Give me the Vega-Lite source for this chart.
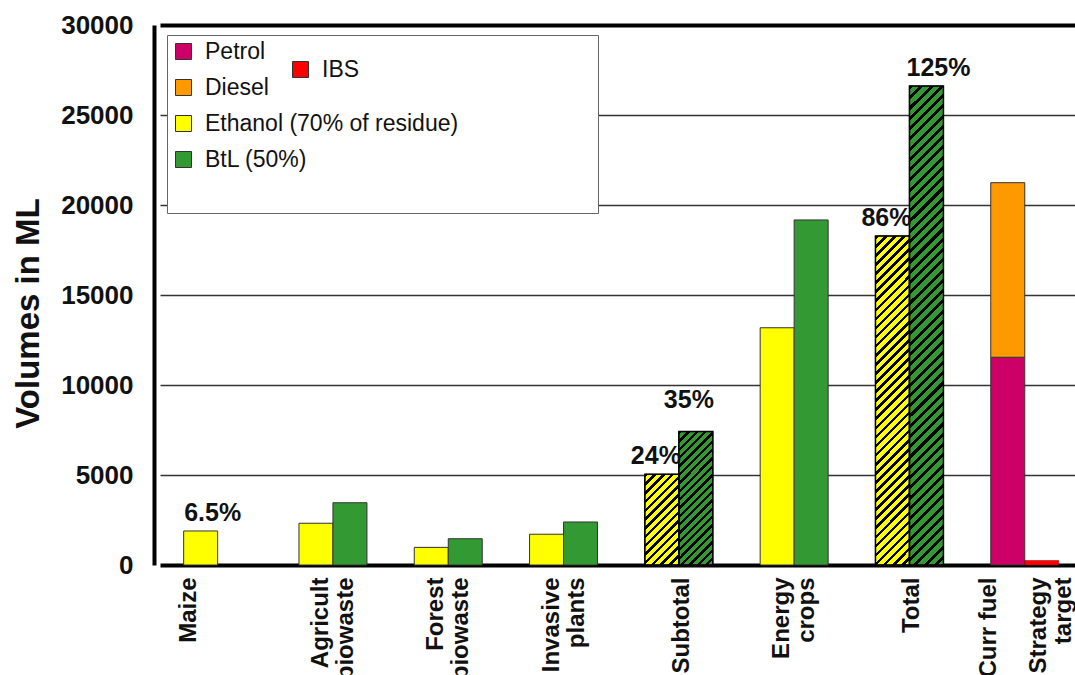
{
"$schema": "https://vega.github.io/schema/vega-lite/v6.json",
"width": 921,
"height": 540,
"autosize": "none",
"padding": {"left": 154, "top": 25, "right": 0, "bottom": 110},
"background": "white",
"config": {"font": "Liberation Sans", "view": {"stroke": null}},
"data": {"values": [
 {"cat": "Maize", "fuel": "Ethanol (70% of residue)", "value": 1890, "label": "6.5%"},
 {"cat": "Agricult biowaste", "fuel": "Ethanol (70% of residue)", "value": 2320},
 {"cat": "Agricult biowaste", "fuel": "BtL (50%)", "value": 3460},
 {"cat": "Forest biowaste", "fuel": "Ethanol (70% of residue)", "value": 980},
 {"cat": "Forest biowaste", "fuel": "BtL (50%)", "value": 1460},
 {"cat": "Invasive plants", "fuel": "Ethanol (70% of residue)", "value": 1710},
 {"cat": "Invasive plants", "fuel": "BtL (50%)", "value": 2390},
 {"cat": "Subtotal", "fuel": "Ethanol (70% of residue)", "value": 5040, "label": "24%"},
 {"cat": "Subtotal", "fuel": "BtL (50%)", "value": 7410, "label": "35%"},
 {"cat": "Energy crops", "fuel": "Ethanol (70% of residue)", "value": 13180},
 {"cat": "Energy crops", "fuel": "BtL (50%)", "value": 19170},
 {"cat": "Total", "fuel": "Ethanol (70% of residue)", "value": 18280, "label": "86%"},
 {"cat": "Total", "fuel": "BtL (50%)", "value": 26610, "label": "125%"},
 {"cat": "Curr fuel / Strategy target", "fuel": "Petrol", "value": 11540},
 {"cat": "Curr fuel / Strategy target", "fuel": "Diesel", "value": 9700},
 {"cat": "Curr fuel / Strategy target", "fuel": "IBS", "value": 250}
]},
"transform": [{"calculate": "datum.fuel === 'BtL (50%)' || datum.fuel === 'IBS' ? 'b' : 'a'", "as": "slot"}],
"encoding": {
 "x": {"field": "cat", "type": "nominal", "sort": null,
  "scale": {"domain": ["Maize", "Agricult biowaste", "Forest biowaste", "Invasive plants", "Subtotal", "Energy crops", "Total", "Curr fuel / Strategy target"], "range": [6, 928.4], "paddingInner": 0, "paddingOuter": 0},
  "axis": {"title": null, "domain": false, "ticks": false, "grid": false, "labelAngle": 270, "labelAlign": "right", "labelBaseline": "middle", "labelFontSize": 24, "labelFontWeight": "bold", "labelColor": "#111", "labelPadding": 12, "labelLineHeight": 25, "labelLimit": 0, "labelOverlap": false, "labelFlush": false,
   "labelOffset": {"condition": [{"test": "datum.value === 'Maize'", "value": -29}, {"test": "datum.value === 'Curr fuel / Strategy target'", "value": -36}, {"test": "indexof(datum.value, ' ') >= 0", "value": -12}], "value": 3},
   "labelExpr": "datum.value === 'Curr fuel / Strategy target' ? ['Curr fuel', '\u200b', 'Strategy', 'target'] : split(datum.value, ' ')"}},
 "xOffset": {"field": "slot", "type": "nominal", "scale": {"domain": ["a", "b"], "paddingInner": 0, "paddingOuter": 0.696}},
 "y": {"field": "value", "type": "quantitative", "scale": {"domain": [0, 30000]},
  "axis": {"title": "Volumes in ML", "titleFontSize": 33, "titleFontWeight": "bold", "titleColor": "#111", "titleAngle": 270, "titleAlign": "center", "titleBaseline": "middle", "titleX": -126, "titleY": 288,
   "values": [0, 5000, 10000, 15000, 20000, 25000, 30000], "format": "d", "labelFontSize": 26, "labelFontWeight": "bold", "labelColor": "#111", "labelPadding": 21, "ticks": false,
   "domainColor": "#000", "domainWidth": 4, "grid": true, "gridColor": {"condition": {"test": "datum.value === 0 || datum.value === 30000", "value": "#000"}, "value": "#333"}, "gridWidth": {"condition": {"test": "datum.value === 0 || datum.value === 30000", "value": 4}, "value": 1.5}}}
},
"layer": [
 {"transform": [{"filter": "datum.fuel !== 'IBS'"}],
  "mark": {"type": "bar", "stroke": "#333", "strokeWidth": 1},
  "encoding": {
   "color": {"field": "fuel", "type": "nominal",
    "scale": {"domain": ["Petrol", "Diesel", "Ethanol (70% of residue)", "BtL (50%)"], "range": ["#CC0066", "#FF9900", "#FFFF00", "#339933"]},
    "legend": {"title": "\u00a0", "titleOrient": "bottom", "titleFontSize": 26, "titlePadding": 10, "orient": "none", "legendX": 13, "legendY": 10, "direction": "vertical",
     "symbolType": "square", "symbolSize": 256, "symbolStrokeColor": "#333", "symbolStrokeWidth": 1, "symbolOpacity": 1,
     "labelFontSize": 23, "labelColor": "#111", "labelOffset": 10, "labelLimit": 0, "rowPadding": 12, "padding": 5, "fillColor": "white", "strokeColor": "#666",
     "labelExpr": "datum.label === 'Ethanol (70% of residue)' ? datum.label + '\u00a0\u00a0\u00a0\u00a0\u00a0\u00a0\u00a0\u00a0\u00a0\u00a0\u00a0\u00a0\u00a0\u00a0\u00a0\u00a0\u00a0\u00a0\u00a0\u00a0\u00a0\u200b' : datum.label"}},
   "order": {"field": "value", "sort": "descending"}
  }},
 {"transform": [{"filter": "datum.fuel === 'IBS'"}],
  "mark": {"type": "bar", "stroke": "#990000", "strokeWidth": 0.5},
  "encoding": {
   "fill": {"field": "fuel", "type": "nominal", "scale": {"domain": ["IBS"], "range": ["#FF0000"]},
    "legend": {"title": null, "orient": "none", "legendX": 135, "legendY": 33, "symbolType": "square", "symbolSize": 256, "symbolStrokeColor": "#333", "symbolStrokeWidth": 1, "symbolOpacity": 1, "labelFontSize": 23, "labelColor": "#111", "labelOffset": 10, "padding": 0}}
  }},
 {"transform": [{"filter": "datum.cat === 'Subtotal' || datum.cat === 'Total'"}],
  "mark": {"type": "bar", "stroke": "#000", "strokeWidth": 1.5},
  "encoding": {
   "fill": {"condition": [
    {"test": "datum.cat === 'Subtotal' && datum.slot === 'a'", "value": {"gradient": "linear", "x1": 0, "y1": 0, "x2": 0.452, "y2": 1.206, "stops": [
     {"offset": 0, "color": "#000"}, {"offset": 0.028, "color": "#000"}, {"offset": 0.028, "color": "#0000"},
     {"offset": 0.07, "color": "#0000"}, {"offset": 0.07, "color": "#000"}, {"offset": 0.098, "color": "#000"}, {"offset": 0.098, "color": "#0000"},
     {"offset": 0.14, "color": "#0000"}, {"offset": 0.14, "color": "#000"}, {"offset": 0.168, "color": "#000"}, {"offset": 0.168, "color": "#0000"},
     {"offset": 0.21, "color": "#0000"}, {"offset": 0.21, "color": "#000"}, {"offset": 0.238, "color": "#000"}, {"offset": 0.238, "color": "#0000"},
     {"offset": 0.28, "color": "#0000"}, {"offset": 0.28, "color": "#000"}, {"offset": 0.308, "color": "#000"}, {"offset": 0.308, "color": "#0000"},
     {"offset": 0.35, "color": "#0000"}, {"offset": 0.35, "color": "#000"}, {"offset": 0.378, "color": "#000"}, {"offset": 0.378, "color": "#0000"},
     {"offset": 0.42, "color": "#0000"}, {"offset": 0.42, "color": "#000"}, {"offset": 0.448, "color": "#000"}, {"offset": 0.448, "color": "#0000"},
     {"offset": 0.49, "color": "#0000"}, {"offset": 0.49, "color": "#000"}, {"offset": 0.518, "color": "#000"}, {"offset": 0.518, "color": "#0000"},
     {"offset": 0.56, "color": "#0000"}, {"offset": 0.56, "color": "#000"}, {"offset": 0.588, "color": "#000"}, {"offset": 0.588, "color": "#0000"},
     {"offset": 0.63, "color": "#0000"}, {"offset": 0.63, "color": "#000"}, {"offset": 0.658, "color": "#000"}, {"offset": 0.658, "color": "#0000"},
     {"offset": 0.7, "color": "#0000"}, {"offset": 0.7, "color": "#000"}, {"offset": 0.728, "color": "#000"}, {"offset": 0.728, "color": "#0000"},
     {"offset": 0.77, "color": "#0000"}, {"offset": 0.77, "color": "#000"}, {"offset": 0.798, "color": "#000"}, {"offset": 0.798, "color": "#0000"},
     {"offset": 0.84, "color": "#0000"}, {"offset": 0.84, "color": "#000"}, {"offset": 0.868, "color": "#000"}, {"offset": 0.868, "color": "#0000"},
     {"offset": 0.91, "color": "#0000"}, {"offset": 0.91, "color": "#000"}, {"offset": 0.938, "color": "#000"}, {"offset": 0.938, "color": "#0000"},
     {"offset": 0.98, "color": "#0000"}, {"offset": 0.98, "color": "#000"}, {"offset": 1, "color": "#000"}]}},
    {"test": "datum.cat === 'Subtotal' && datum.slot === 'b'", "value": {"gradient": "linear", "x1": 0, "y1": 0, "x2": 0.301, "y2": 1.178, "stops": [
     {"offset": 0, "color": "#000"}, {"offset": 0.02, "color": "#000"}, {"offset": 0.02, "color": "#0000"},
     {"offset": 0.05, "color": "#0000"}, {"offset": 0.05, "color": "#000"}, {"offset": 0.07, "color": "#000"}, {"offset": 0.07, "color": "#0000"},
     {"offset": 0.1, "color": "#0000"}, {"offset": 0.1, "color": "#000"}, {"offset": 0.12, "color": "#000"}, {"offset": 0.12, "color": "#0000"},
     {"offset": 0.15, "color": "#0000"}, {"offset": 0.15, "color": "#000"}, {"offset": 0.17, "color": "#000"}, {"offset": 0.17, "color": "#0000"},
     {"offset": 0.2, "color": "#0000"}, {"offset": 0.2, "color": "#000"}, {"offset": 0.22, "color": "#000"}, {"offset": 0.22, "color": "#0000"},
     {"offset": 0.25, "color": "#0000"}, {"offset": 0.25, "color": "#000"}, {"offset": 0.27, "color": "#000"}, {"offset": 0.27, "color": "#0000"},
     {"offset": 0.3, "color": "#0000"}, {"offset": 0.3, "color": "#000"}, {"offset": 0.32, "color": "#000"}, {"offset": 0.32, "color": "#0000"},
     {"offset": 0.35, "color": "#0000"}, {"offset": 0.35, "color": "#000"}, {"offset": 0.37, "color": "#000"}, {"offset": 0.37, "color": "#0000"},
     {"offset": 0.4, "color": "#0000"}, {"offset": 0.4, "color": "#000"}, {"offset": 0.42, "color": "#000"}, {"offset": 0.42, "color": "#0000"},
     {"offset": 0.45, "color": "#0000"}, {"offset": 0.45, "color": "#000"}, {"offset": 0.47, "color": "#000"}, {"offset": 0.47, "color": "#0000"},
     {"offset": 0.5, "color": "#0000"}, {"offset": 0.5, "color": "#000"}, {"offset": 0.52, "color": "#000"}, {"offset": 0.52, "color": "#0000"},
     {"offset": 0.55, "color": "#0000"}, {"offset": 0.55, "color": "#000"}, {"offset": 0.57, "color": "#000"}, {"offset": 0.57, "color": "#0000"},
     {"offset": 0.6, "color": "#0000"}, {"offset": 0.6, "color": "#000"}, {"offset": 0.62, "color": "#000"}, {"offset": 0.62, "color": "#0000"},
     {"offset": 0.65, "color": "#0000"}, {"offset": 0.65, "color": "#000"}, {"offset": 0.67, "color": "#000"}, {"offset": 0.67, "color": "#0000"},
     {"offset": 0.7, "color": "#0000"}, {"offset": 0.7, "color": "#000"}, {"offset": 0.72, "color": "#000"}, {"offset": 0.72, "color": "#0000"},
     {"offset": 0.75, "color": "#0000"}, {"offset": 0.75, "color": "#000"}, {"offset": 0.77, "color": "#000"}, {"offset": 0.77, "color": "#0000"},
     {"offset": 0.8, "color": "#0000"}, {"offset": 0.8, "color": "#000"}, {"offset": 0.82, "color": "#000"}, {"offset": 0.82, "color": "#0000"},
     {"offset": 0.85, "color": "#0000"}, {"offset": 0.85, "color": "#000"}, {"offset": 0.87, "color": "#000"}, {"offset": 0.87, "color": "#0000"},
     {"offset": 0.9, "color": "#0000"}, {"offset": 0.9, "color": "#000"}, {"offset": 0.92, "color": "#000"}, {"offset": 0.92, "color": "#0000"},
     {"offset": 0.95, "color": "#0000"}, {"offset": 0.95, "color": "#000"}, {"offset": 0.97, "color": "#000"}, {"offset": 0.97, "color": "#0000"}]}},
    {"test": "datum.cat === 'Total' && datum.slot === 'a'", "value": {"gradient": "linear", "x1": 0, "y1": 0, "x2": 0.113, "y2": 1.092, "stops": [
     {"offset": 0, "color": "#000"}, {"offset": 0.01, "color": "#000"}, {"offset": 0.01, "color": "#0000"},
     {"offset": 0.025, "color": "#0000"}, {"offset": 0.025, "color": "#000"}, {"offset": 0.035, "color": "#000"}, {"offset": 0.035, "color": "#0000"},
     {"offset": 0.05, "color": "#0000"}, {"offset": 0.05, "color": "#000"}, {"offset": 0.06, "color": "#000"}, {"offset": 0.06, "color": "#0000"},
     {"offset": 0.075, "color": "#0000"}, {"offset": 0.075, "color": "#000"}, {"offset": 0.085, "color": "#000"}, {"offset": 0.085, "color": "#0000"},
     {"offset": 0.1, "color": "#0000"}, {"offset": 0.1, "color": "#000"}, {"offset": 0.11, "color": "#000"}, {"offset": 0.11, "color": "#0000"},
     {"offset": 0.125, "color": "#0000"}, {"offset": 0.125, "color": "#000"}, {"offset": 0.135, "color": "#000"}, {"offset": 0.135, "color": "#0000"},
     {"offset": 0.15, "color": "#0000"}, {"offset": 0.15, "color": "#000"}, {"offset": 0.16, "color": "#000"}, {"offset": 0.16, "color": "#0000"},
     {"offset": 0.175, "color": "#0000"}, {"offset": 0.175, "color": "#000"}, {"offset": 0.185, "color": "#000"}, {"offset": 0.185, "color": "#0000"},
     {"offset": 0.2, "color": "#0000"}, {"offset": 0.2, "color": "#000"}, {"offset": 0.21, "color": "#000"}, {"offset": 0.21, "color": "#0000"},
     {"offset": 0.225, "color": "#0000"}, {"offset": 0.225, "color": "#000"}, {"offset": 0.235, "color": "#000"}, {"offset": 0.235, "color": "#0000"},
     {"offset": 0.25, "color": "#0000"}, {"offset": 0.25, "color": "#000"}, {"offset": 0.26, "color": "#000"}, {"offset": 0.26, "color": "#0000"},
     {"offset": 0.275, "color": "#0000"}, {"offset": 0.275, "color": "#000"}, {"offset": 0.285, "color": "#000"}, {"offset": 0.285, "color": "#0000"},
     {"offset": 0.3, "color": "#0000"}, {"offset": 0.3, "color": "#000"}, {"offset": 0.31, "color": "#000"}, {"offset": 0.31, "color": "#0000"},
     {"offset": 0.325, "color": "#0000"}, {"offset": 0.325, "color": "#000"}, {"offset": 0.335, "color": "#000"}, {"offset": 0.335, "color": "#0000"},
     {"offset": 0.35, "color": "#0000"}, {"offset": 0.35, "color": "#000"}, {"offset": 0.36, "color": "#000"}, {"offset": 0.36, "color": "#0000"},
     {"offset": 0.375, "color": "#0000"}, {"offset": 0.375, "color": "#000"}, {"offset": 0.385, "color": "#000"}, {"offset": 0.385, "color": "#0000"},
     {"offset": 0.4, "color": "#0000"}, {"offset": 0.4, "color": "#000"}, {"offset": 0.41, "color": "#000"}, {"offset": 0.41, "color": "#0000"},
     {"offset": 0.425, "color": "#0000"}, {"offset": 0.425, "color": "#000"}, {"offset": 0.435, "color": "#000"}, {"offset": 0.435, "color": "#0000"},
     {"offset": 0.45, "color": "#0000"}, {"offset": 0.45, "color": "#000"}, {"offset": 0.46, "color": "#000"}, {"offset": 0.46, "color": "#0000"},
     {"offset": 0.475, "color": "#0000"}, {"offset": 0.475, "color": "#000"}, {"offset": 0.485, "color": "#000"}, {"offset": 0.485, "color": "#0000"},
     {"offset": 0.5, "color": "#0000"}, {"offset": 0.5, "color": "#000"}, {"offset": 0.51, "color": "#000"}, {"offset": 0.51, "color": "#0000"},
     {"offset": 0.525, "color": "#0000"}, {"offset": 0.525, "color": "#000"}, {"offset": 0.535, "color": "#000"}, {"offset": 0.535, "color": "#0000"},
     {"offset": 0.55, "color": "#0000"}, {"offset": 0.55, "color": "#000"}, {"offset": 0.56, "color": "#000"}, {"offset": 0.56, "color": "#0000"},
     {"offset": 0.575, "color": "#0000"}, {"offset": 0.575, "color": "#000"}, {"offset": 0.585, "color": "#000"}, {"offset": 0.585, "color": "#0000"},
     {"offset": 0.6, "color": "#0000"}, {"offset": 0.6, "color": "#000"}, {"offset": 0.61, "color": "#000"}, {"offset": 0.61, "color": "#0000"},
     {"offset": 0.625, "color": "#0000"}, {"offset": 0.625, "color": "#000"}, {"offset": 0.635, "color": "#000"}, {"offset": 0.635, "color": "#0000"},
     {"offset": 0.65, "color": "#0000"}, {"offset": 0.65, "color": "#000"}, {"offset": 0.66, "color": "#000"}, {"offset": 0.66, "color": "#0000"},
     {"offset": 0.675, "color": "#0000"}, {"offset": 0.675, "color": "#000"}, {"offset": 0.685, "color": "#000"}, {"offset": 0.685, "color": "#0000"},
     {"offset": 0.7, "color": "#0000"}, {"offset": 0.7, "color": "#000"}, {"offset": 0.71, "color": "#000"}, {"offset": 0.71, "color": "#0000"},
     {"offset": 0.725, "color": "#0000"}, {"offset": 0.725, "color": "#000"}, {"offset": 0.735, "color": "#000"}, {"offset": 0.735, "color": "#0000"},
     {"offset": 0.75, "color": "#0000"}, {"offset": 0.75, "color": "#000"}, {"offset": 0.76, "color": "#000"}, {"offset": 0.76, "color": "#0000"},
     {"offset": 0.775, "color": "#0000"}, {"offset": 0.775, "color": "#000"}, {"offset": 0.785, "color": "#000"}, {"offset": 0.785, "color": "#0000"},
     {"offset": 0.8, "color": "#0000"}, {"offset": 0.8, "color": "#000"}, {"offset": 0.81, "color": "#000"}, {"offset": 0.81, "color": "#0000"},
     {"offset": 0.825, "color": "#0000"}, {"offset": 0.825, "color": "#000"}, {"offset": 0.835, "color": "#000"}, {"offset": 0.835, "color": "#0000"},
     {"offset": 0.85, "color": "#0000"}, {"offset": 0.85, "color": "#000"}, {"offset": 0.86, "color": "#000"}, {"offset": 0.86, "color": "#0000"},
     {"offset": 0.875, "color": "#0000"}, {"offset": 0.875, "color": "#000"}, {"offset": 0.885, "color": "#000"}, {"offset": 0.885, "color": "#0000"},
     {"offset": 0.9, "color": "#0000"}, {"offset": 0.9, "color": "#000"}, {"offset": 0.91, "color": "#000"}, {"offset": 0.91, "color": "#0000"},
     {"offset": 0.925, "color": "#0000"}, {"offset": 0.925, "color": "#000"}, {"offset": 0.935, "color": "#000"}, {"offset": 0.935, "color": "#0000"},
     {"offset": 0.95, "color": "#0000"}, {"offset": 0.95, "color": "#000"}, {"offset": 0.96, "color": "#000"}, {"offset": 0.96, "color": "#0000"},
     {"offset": 0.975, "color": "#0000"}, {"offset": 0.975, "color": "#000"}, {"offset": 0.985, "color": "#000"}, {"offset": 0.985, "color": "#0000"}]}},
    {"test": "datum.cat === 'Total' && datum.slot === 'b'", "value": {"gradient": "linear", "x1": 0, "y1": 0, "x2": 0.0756, "y2": 1.066, "stops": [
     {"offset": 0, "color": "#000"}, {"offset": 0.008, "color": "#000"}, {"offset": 0.008, "color": "#0000"},
     {"offset": 0.02, "color": "#0000"}, {"offset": 0.02, "color": "#000"}, {"offset": 0.028, "color": "#000"}, {"offset": 0.028, "color": "#0000"},
     {"offset": 0.04, "color": "#0000"}, {"offset": 0.04, "color": "#000"}, {"offset": 0.048, "color": "#000"}, {"offset": 0.048, "color": "#0000"},
     {"offset": 0.06, "color": "#0000"}, {"offset": 0.06, "color": "#000"}, {"offset": 0.068, "color": "#000"}, {"offset": 0.068, "color": "#0000"},
     {"offset": 0.08, "color": "#0000"}, {"offset": 0.08, "color": "#000"}, {"offset": 0.088, "color": "#000"}, {"offset": 0.088, "color": "#0000"},
     {"offset": 0.1, "color": "#0000"}, {"offset": 0.1, "color": "#000"}, {"offset": 0.108, "color": "#000"}, {"offset": 0.108, "color": "#0000"},
     {"offset": 0.12, "color": "#0000"}, {"offset": 0.12, "color": "#000"}, {"offset": 0.128, "color": "#000"}, {"offset": 0.128, "color": "#0000"},
     {"offset": 0.14, "color": "#0000"}, {"offset": 0.14, "color": "#000"}, {"offset": 0.148, "color": "#000"}, {"offset": 0.148, "color": "#0000"},
     {"offset": 0.16, "color": "#0000"}, {"offset": 0.16, "color": "#000"}, {"offset": 0.168, "color": "#000"}, {"offset": 0.168, "color": "#0000"},
     {"offset": 0.18, "color": "#0000"}, {"offset": 0.18, "color": "#000"}, {"offset": 0.188, "color": "#000"}, {"offset": 0.188, "color": "#0000"},
     {"offset": 0.2, "color": "#0000"}, {"offset": 0.2, "color": "#000"}, {"offset": 0.208, "color": "#000"}, {"offset": 0.208, "color": "#0000"},
     {"offset": 0.22, "color": "#0000"}, {"offset": 0.22, "color": "#000"}, {"offset": 0.228, "color": "#000"}, {"offset": 0.228, "color": "#0000"},
     {"offset": 0.24, "color": "#0000"}, {"offset": 0.24, "color": "#000"}, {"offset": 0.248, "color": "#000"}, {"offset": 0.248, "color": "#0000"},
     {"offset": 0.26, "color": "#0000"}, {"offset": 0.26, "color": "#000"}, {"offset": 0.268, "color": "#000"}, {"offset": 0.268, "color": "#0000"},
     {"offset": 0.28, "color": "#0000"}, {"offset": 0.28, "color": "#000"}, {"offset": 0.288, "color": "#000"}, {"offset": 0.288, "color": "#0000"},
     {"offset": 0.3, "color": "#0000"}, {"offset": 0.3, "color": "#000"}, {"offset": 0.308, "color": "#000"}, {"offset": 0.308, "color": "#0000"},
     {"offset": 0.32, "color": "#0000"}, {"offset": 0.32, "color": "#000"}, {"offset": 0.328, "color": "#000"}, {"offset": 0.328, "color": "#0000"},
     {"offset": 0.34, "color": "#0000"}, {"offset": 0.34, "color": "#000"}, {"offset": 0.348, "color": "#000"}, {"offset": 0.348, "color": "#0000"},
     {"offset": 0.36, "color": "#0000"}, {"offset": 0.36, "color": "#000"}, {"offset": 0.368, "color": "#000"}, {"offset": 0.368, "color": "#0000"},
     {"offset": 0.38, "color": "#0000"}, {"offset": 0.38, "color": "#000"}, {"offset": 0.388, "color": "#000"}, {"offset": 0.388, "color": "#0000"},
     {"offset": 0.4, "color": "#0000"}, {"offset": 0.4, "color": "#000"}, {"offset": 0.408, "color": "#000"}, {"offset": 0.408, "color": "#0000"},
     {"offset": 0.42, "color": "#0000"}, {"offset": 0.42, "color": "#000"}, {"offset": 0.428, "color": "#000"}, {"offset": 0.428, "color": "#0000"},
     {"offset": 0.44, "color": "#0000"}, {"offset": 0.44, "color": "#000"}, {"offset": 0.448, "color": "#000"}, {"offset": 0.448, "color": "#0000"},
     {"offset": 0.46, "color": "#0000"}, {"offset": 0.46, "color": "#000"}, {"offset": 0.468, "color": "#000"}, {"offset": 0.468, "color": "#0000"},
     {"offset": 0.48, "color": "#0000"}, {"offset": 0.48, "color": "#000"}, {"offset": 0.488, "color": "#000"}, {"offset": 0.488, "color": "#0000"},
     {"offset": 0.5, "color": "#0000"}, {"offset": 0.5, "color": "#000"}, {"offset": 0.508, "color": "#000"}, {"offset": 0.508, "color": "#0000"},
     {"offset": 0.52, "color": "#0000"}, {"offset": 0.52, "color": "#000"}, {"offset": 0.528, "color": "#000"}, {"offset": 0.528, "color": "#0000"},
     {"offset": 0.54, "color": "#0000"}, {"offset": 0.54, "color": "#000"}, {"offset": 0.548, "color": "#000"}, {"offset": 0.548, "color": "#0000"},
     {"offset": 0.56, "color": "#0000"}, {"offset": 0.56, "color": "#000"}, {"offset": 0.568, "color": "#000"}, {"offset": 0.568, "color": "#0000"},
     {"offset": 0.58, "color": "#0000"}, {"offset": 0.58, "color": "#000"}, {"offset": 0.588, "color": "#000"}, {"offset": 0.588, "color": "#0000"},
     {"offset": 0.6, "color": "#0000"}, {"offset": 0.6, "color": "#000"}, {"offset": 0.608, "color": "#000"}, {"offset": 0.608, "color": "#0000"},
     {"offset": 0.62, "color": "#0000"}, {"offset": 0.62, "color": "#000"}, {"offset": 0.628, "color": "#000"}, {"offset": 0.628, "color": "#0000"},
     {"offset": 0.64, "color": "#0000"}, {"offset": 0.64, "color": "#000"}, {"offset": 0.648, "color": "#000"}, {"offset": 0.648, "color": "#0000"},
     {"offset": 0.66, "color": "#0000"}, {"offset": 0.66, "color": "#000"}, {"offset": 0.668, "color": "#000"}, {"offset": 0.668, "color": "#0000"},
     {"offset": 0.68, "color": "#0000"}, {"offset": 0.68, "color": "#000"}, {"offset": 0.688, "color": "#000"}, {"offset": 0.688, "color": "#0000"},
     {"offset": 0.7, "color": "#0000"}, {"offset": 0.7, "color": "#000"}, {"offset": 0.708, "color": "#000"}, {"offset": 0.708, "color": "#0000"},
     {"offset": 0.72, "color": "#0000"}, {"offset": 0.72, "color": "#000"}, {"offset": 0.728, "color": "#000"}, {"offset": 0.728, "color": "#0000"},
     {"offset": 0.74, "color": "#0000"}, {"offset": 0.74, "color": "#000"}, {"offset": 0.748, "color": "#000"}, {"offset": 0.748, "color": "#0000"},
     {"offset": 0.76, "color": "#0000"}, {"offset": 0.76, "color": "#000"}, {"offset": 0.768, "color": "#000"}, {"offset": 0.768, "color": "#0000"},
     {"offset": 0.78, "color": "#0000"}, {"offset": 0.78, "color": "#000"}, {"offset": 0.788, "color": "#000"}, {"offset": 0.788, "color": "#0000"},
     {"offset": 0.8, "color": "#0000"}, {"offset": 0.8, "color": "#000"}, {"offset": 0.808, "color": "#000"}, {"offset": 0.808, "color": "#0000"},
     {"offset": 0.82, "color": "#0000"}, {"offset": 0.82, "color": "#000"}, {"offset": 0.828, "color": "#000"}, {"offset": 0.828, "color": "#0000"},
     {"offset": 0.84, "color": "#0000"}, {"offset": 0.84, "color": "#000"}, {"offset": 0.848, "color": "#000"}, {"offset": 0.848, "color": "#0000"},
     {"offset": 0.86, "color": "#0000"}, {"offset": 0.86, "color": "#000"}, {"offset": 0.868, "color": "#000"}, {"offset": 0.868, "color": "#0000"},
     {"offset": 0.88, "color": "#0000"}, {"offset": 0.88, "color": "#000"}, {"offset": 0.888, "color": "#000"}, {"offset": 0.888, "color": "#0000"},
     {"offset": 0.9, "color": "#0000"}, {"offset": 0.9, "color": "#000"}, {"offset": 0.908, "color": "#000"}, {"offset": 0.908, "color": "#0000"},
     {"offset": 0.92, "color": "#0000"}, {"offset": 0.92, "color": "#000"}, {"offset": 0.928, "color": "#000"}, {"offset": 0.928, "color": "#0000"},
     {"offset": 0.94, "color": "#0000"}, {"offset": 0.94, "color": "#000"}, {"offset": 0.948, "color": "#000"}, {"offset": 0.948, "color": "#0000"},
     {"offset": 0.96, "color": "#0000"}, {"offset": 0.96, "color": "#000"}, {"offset": 0.968, "color": "#000"}, {"offset": 0.968, "color": "#0000"},
     {"offset": 0.98, "color": "#0000"}, {"offset": 0.98, "color": "#000"}, {"offset": 0.988, "color": "#000"}, {"offset": 0.988, "color": "#0000"}]}}
   ], "value": "#0000"}
  }},
 {"transform": [{"filter": "datum.label === '6.5%' || datum.label === '125%'"}],
  "mark": {"type": "text", "fontSize": 25, "fontWeight": "bold", "color": "#111", "baseline": "alphabetic", "align": "center", "dx": 12, "dy": -10},
  "encoding": {"text": {"field": "label"}}},
 {"transform": [{"filter": "datum.label === '24%' || datum.label === '86%'"}],
  "mark": {"type": "text", "fontSize": 25, "fontWeight": "bold", "color": "#111", "baseline": "alphabetic", "align": "center", "dx": -6, "dy": -10},
  "encoding": {"text": {"field": "label"}}},
 {"transform": [{"filter": "datum.label === '35%'"}],
  "mark": {"type": "text", "fontSize": 25, "fontWeight": "bold", "color": "#111", "baseline": "alphabetic", "align": "center", "dx": -7, "dy": -24},
  "encoding": {"text": {"field": "label"}}}
]
}
